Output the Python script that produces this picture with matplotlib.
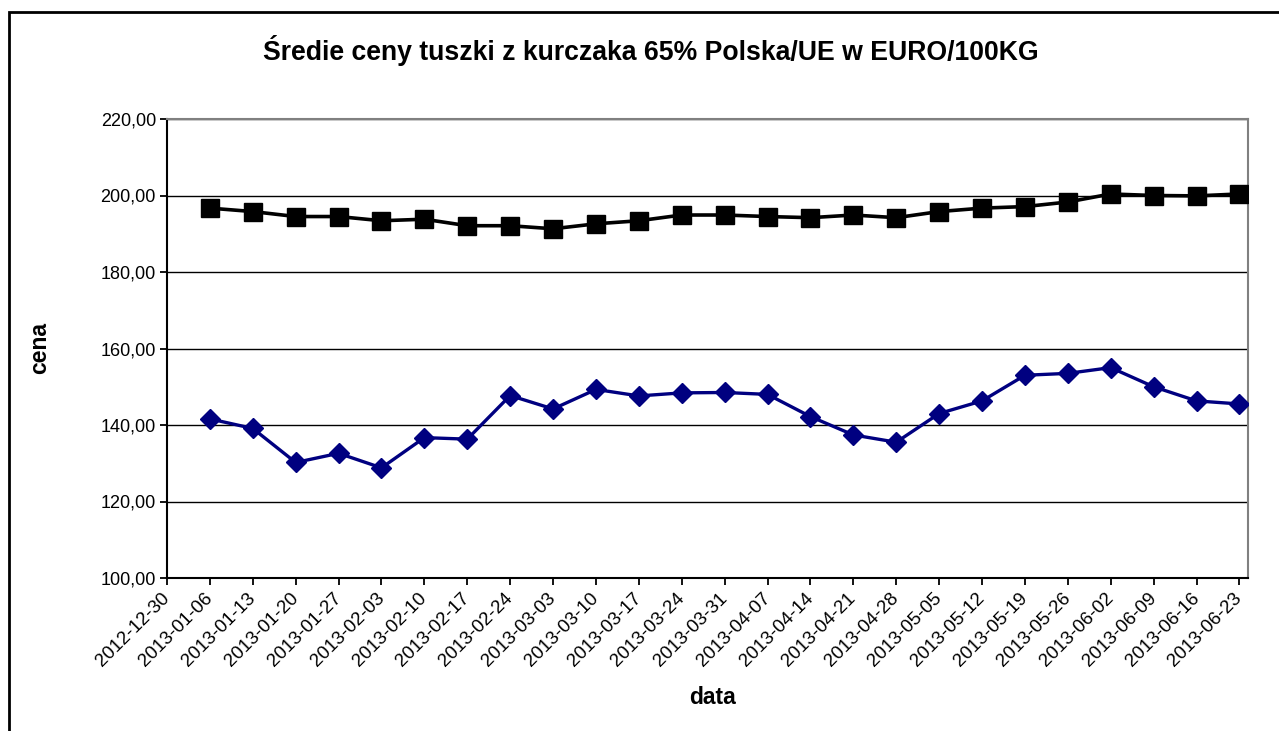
import matplotlib
matplotlib.use("Agg")
import matplotlib.pyplot as plt
from matplotlib.patches import Rectangle
from matplotlib.ticker import FuncFormatter

plt.rcParams["font.family"] = ["Liberation Sans", "DejaVu Sans"]

# Data (weekly, EURO/100KG)
weeks = ["2012-12-30", "2013-01-06", "2013-01-13", "2013-01-20", "2013-01-27",
         "2013-02-03", "2013-02-10", "2013-02-17", "2013-02-24", "2013-03-03",
         "2013-03-10", "2013-03-17", "2013-03-24", "2013-03-31", "2013-04-07",
         "2013-04-14", "2013-04-21", "2013-04-28", "2013-05-05", "2013-05-12",
         "2013-05-19", "2013-05-26", "2013-06-02", "2013-06-09", "2013-06-16",
         "2013-06-23"]

# series start at 2013-01-06
ue_prices = [196.7, 195.8, 194.5, 194.5, 193.4, 193.8, 192.1, 192.1, 191.3,
             192.6, 193.4, 194.9, 194.9, 194.5, 194.2, 194.9, 194.2, 195.8,
             196.7, 197.1, 198.3, 200.4, 200.0, 199.9, 200.4]
pl_prices = [141.6, 139.1, 130.2, 132.6, 128.8, 136.7, 136.3, 147.7, 144.2,
             149.3, 147.6, 148.4, 148.5, 148.0, 142.2, 137.4, 135.5, 143.0,
             146.3, 153.0, 153.5, 155.0, 150.0, 146.3, 145.5]

x_pos = list(range(1, len(weeks)))


# Figure

fig = plt.figure(figsize=(12.79, 7.31), dpi=100)
ax = fig.add_axes([167 / 1279, 1 - 578 / 731, (1248 - 167) / 1279, (578 - 119) / 731])

ax.plot(x_pos, ue_prices, color="black", linewidth=2.6, marker="s",
        markersize=13, zorder=3)
ax.plot(x_pos, pl_prices, color="#000080", linewidth=2.4, marker="D",
        markersize=10, zorder=3)

ax.set_ylim(100, 220)
ax.set_yticks(range(100, 221, 20))
ax.yaxis.set_major_formatter(FuncFormatter(lambda v, p: f"{v:.2f}".replace(".", ",")))
ax.set_xlim(0, 25.2)
ax.set_xticks(range(len(weeks)))
ax.set_xticklabels(weeks, rotation=45, ha="right", va="center",
                   rotation_mode="anchor")

ax.grid(axis="y", color="black", linewidth=1.0)
ax.set_axisbelow(True)
ax.tick_params(axis="y", labelsize=13, length=5, width=1.3, color="black", pad=3)
ax.tick_params(axis="x", labelsize=13.5, length=5, width=1.3, color="black", pad=8)

for side in ["left", "bottom"]:
    ax.spines[side].set_color("black")
    ax.spines[side].set_linewidth(1.5)
for side in ["top", "right"]:
    ax.spines[side].set_color("#808080")
    ax.spines[side].set_linewidth(1.5)

fig.text(651 / 1279, 1 - 51 / 731,
         "Średie ceny tuszki z kurczaka 65% Polska/UE w EURO/100KG",
         ha="center", va="center", fontsize=19.2, fontweight="bold")
fig.text(40 / 1279, 1 - 348 / 731, "cena", rotation=90, ha="center",
         va="center", fontsize=16.5, fontweight="bold")
fig.text(713 / 1279, 1 - 698 / 731, "data", ha="center", va="center",
         fontsize=16.5, fontweight="bold")

# outer chart border (continues past the right and bottom edges)
fig.patches.append(Rectangle((9 / 1279, -0.05), 1.1, 1.05 - 12 / 731,
                             transform=fig.transFigure, fill=False,
                             edgecolor="black", linewidth=2))

fig.savefig("out.png", dpi=100)
